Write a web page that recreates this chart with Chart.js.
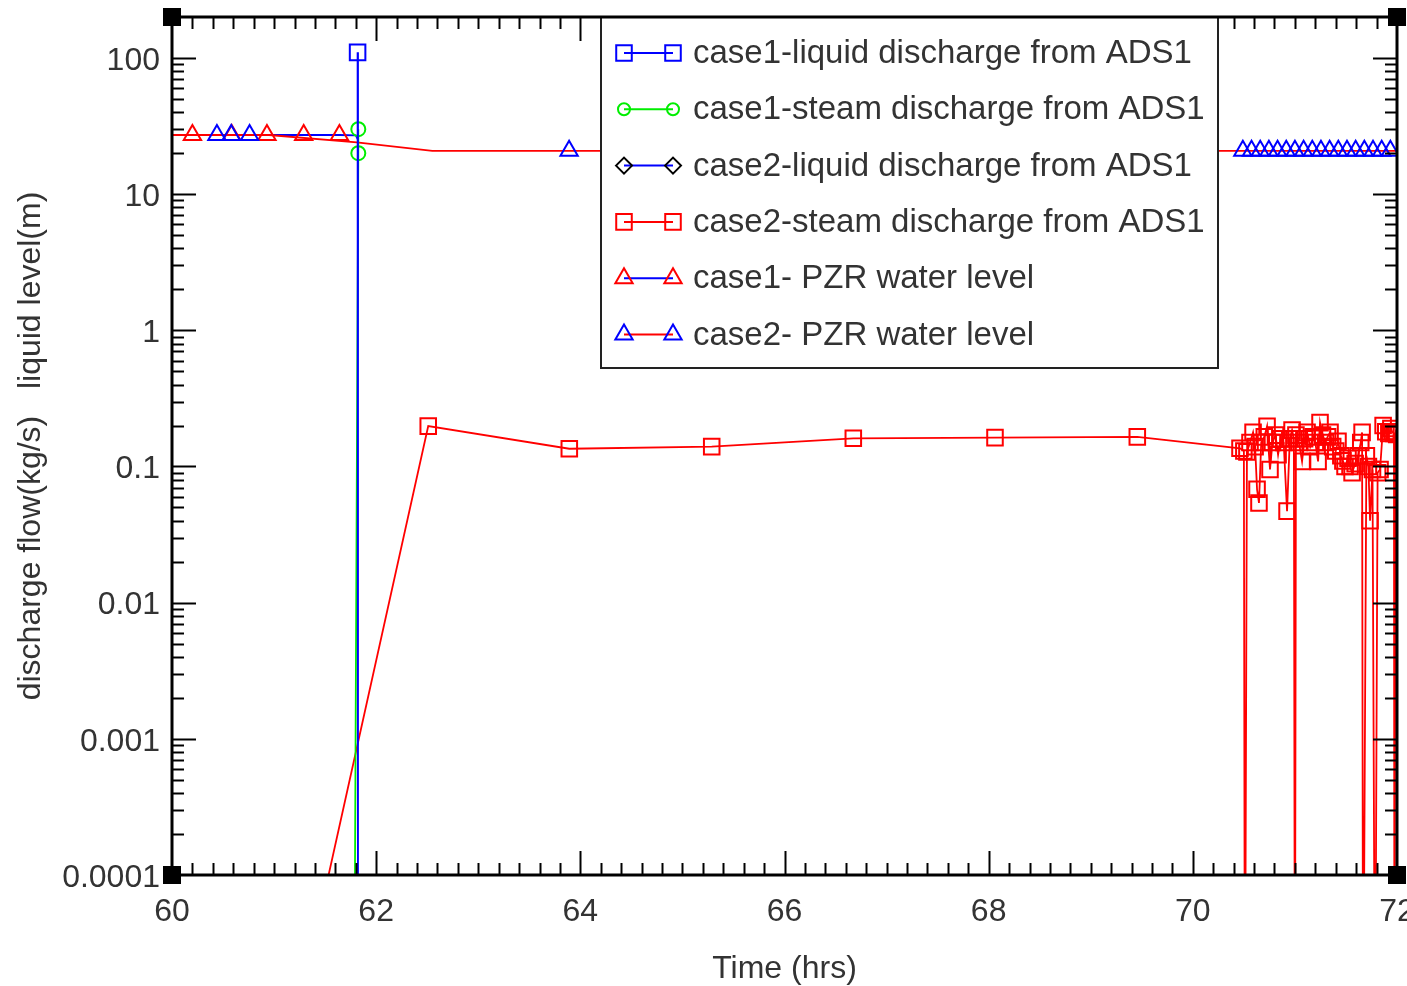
<!DOCTYPE html>
<html>
<head>
<meta charset="utf-8">
<script src="https://cdn.jsdelivr.net/npm/chart.js@4/dist/chart.umd.min.js"></script>
<style>
  html, body { margin: 0; padding: 0; background: #fff; }
  #wrap { width: 1407px; height: 986px; }
</style>
</head>
<body>
<div id="wrap"><canvas id="c" width="1407" height="986"></canvas></div>
<script>
// ---- axis ticks ----
const xTicks = [60, 62, 64, 66, 68, 70, 72];
const yTickValues = [0.0001, 0.001, 0.01, 0.1, 1, 10, 100];
const yTickLabels = ['0.0001', '0.001', '0.01', '0.1', '1', '10', '100'];

// ---- series labels ----
const seriesLabels = [
  'case1-liquid discharge from ADS1',
  'case1-steam discharge from ADS1',
  'case2-liquid discharge from ADS1',
  'case2-steam discharge from ADS1',
  'case1- PZR water level',
  'case2- PZR water level'
];

// ---- series values: [time (hrs), value] ----
const case1Liquid = [[61.818, 110], [61.822, 1e-6]];
const case1Steam = [[61.825, 30], [61.825, 20], [61.78, 1e-6]];
const case2Liquid = [];
const case2Steam = [
  [61.25, 1.1e-5], [62.51, 0.198], [63.892, 0.135], [65.287, 0.140], [66.674, 0.161],
  [68.062, 0.163], [69.456, 0.165], [70.462, 0.136], [70.50, 0.130], [70.51, 3e-6],
  [70.53, 0.128], [70.56, 0.150], [70.59, 0.178], [70.61, 0.140], [70.629, 0.068],
  [70.648, 0.054], [70.67, 0.150], [70.70, 0.165], [70.727, 0.197], [70.756, 0.095],
  [70.78, 0.150], [70.81, 0.170], [70.835, 0.122], [70.86, 0.160], [70.89, 0.150],
  [70.923, 0.047], [70.95, 0.160], [70.972, 0.185], [70.99, 0.160], [71.0, 3e-6],
  [71.01, 0.170], [71.04, 0.150], [71.07, 0.109], [71.095, 0.160], [71.119, 0.178],
  [71.15, 0.140], [71.18, 0.165], [71.20, 0.150], [71.227, 0.109], [71.246, 0.210],
  [71.27, 0.170], [71.30, 0.150], [71.32, 0.165], [71.344, 0.178], [71.37, 0.140],
  [71.40, 0.130], [71.422, 0.153], [71.45, 0.120], [71.47, 0.110], [71.491, 0.100],
  [71.52, 0.115], [71.54, 0.100], [71.56, 0.090], [71.59, 0.105], [71.62, 0.120],
  [71.645, 0.150], [71.658, 0.178], [71.668, 3e-6], [71.70, 0.120], [71.72, 0.100],
  [71.736, 0.040], [71.76, 0.095], [71.785, 3e-6], [71.81, 0.090], [71.834, 0.095],
  [71.864, 0.200], [71.89, 0.180], [71.92, 0.175], [71.94, 0.190], [71.952, 0.180],
  [71.97, 0.175], [71.975, 3e-6], [71.985, 0.180], [71.997, 0.172]
];
const case1Pzr = [
  [60.0, 27.2], [60.2, 27.2], [60.585, 27.2], [60.93, 27.2], [61.29, 27.2],
  [61.64, 27.2], [61.80, 27.0], [61.82, 25.3]
];
const case2Pzr = [
  [60.0, 27.2], [60.44, 27.2], [60.58, 27.2], [60.76, 27.2], [60.95, 27.2],
  [61.81, 24.0], [62.55, 20.8], [63.89, 20.8],
  [70.49, 20.8], [70.575, 20.8], [70.66, 20.8], [70.745, 20.8], [70.83, 20.8],
  [70.915, 20.8], [71.0, 20.8], [71.085, 20.8], [71.17, 20.8], [71.255, 20.8],
  [71.34, 20.8], [71.425, 20.8], [71.51, 20.8], [71.595, 20.8], [71.68, 20.8],
  [71.765, 20.8], [71.85, 20.8], [71.935, 20.8], [72.0, 20.8]
];

// samples that carry no marker (line bends only)
const case1PzrPlain = [0, 6, 7];
const case2PzrPlain = [0, 4, 5, 6, 26];

const FONT = '"Liberation Sans", Arial, sans-serif';
const TEXT = '#333333';
const toXY = arr => arr.map(([x, y]) => ({ x, y }));
const radiusFn = (r, plain) => ctx => (plain.includes(ctx.dataIndex) ? 0 : r);

const makeSet = (i, data, line, mark, style, r, order, plain) => ({
  label: seriesLabels[i],
  data: toXY(data),
  borderColor: line,
  borderWidth: 1.8,
  pointStyle: style,
  pointBorderColor: mark,
  pointBackgroundColor: 'rgba(0,0,0,0)',
  pointBorderWidth: 2,
  pointRadius: plain ? radiusFn(r, plain) : r,
  legendRadius: style === 'rect' ? 11 : (style === 'circle' ? 6 : (style === 'rectRot' ? 8 : 10)),
  order: order,
  fill: false,
  tension: 0
});

const datasets = [
  makeSet(0, case1Liquid, '#0000ff', '#0000ff', 'rect', 11, 1),
  makeSet(1, case1Steam, '#00ee00', '#00ee00', 'circle', 7, 2),
  makeSet(2, case2Liquid, '#0000ff', '#000000', 'rectRot', 8, 6),
  makeSet(3, case2Steam, '#ff0000', '#ff0000', 'rect', 11, 3),
  makeSet(4, case1Pzr, '#0000ff', '#ff0000', 'triangle', 10, 5, case1PzrPlain),
  makeSet(5, case2Pzr, '#ff0000', '#0000ff', 'triangle', 10, 4, case2PzrPlain)
];

// inward tick marks on all four sides
const tickPlugin = {
  id: 'inwardTicks',
  afterDatasetsDraw(chart) {
    const { ctx, chartArea: a, scales: { x, y } } = chart;
    ctx.save();
    ctx.strokeStyle = '#000';
    ctx.lineWidth = 2;
    const seg = (x0, y0, x1, y1) => { ctx.beginPath(); ctx.moveTo(x0, y0); ctx.lineTo(x1, y1); ctx.stroke(); };
    const minorStep = 0.2;
    const nx = Math.round((x.max - x.min) / minorStep);
    for (let k = 1; k < nx; k++) {
      const t = x.min + k * minorStep;
      const px = Math.round(x.getPixelForValue(t)) + 0.5;
      const len = (k % 10 === 0) ? 24 : 12;
      seg(px, a.bottom, px, a.bottom - len);
      seg(px, a.top, px, a.top + len);
    }
    for (let d = -4; d <= 2; d++) {
      for (let m = 1; m <= 9; m++) {
        const v = m * Math.pow(10, d);
        if (v <= y.min || v >= y.max) continue;
        const py = Math.round(y.getPixelForValue(v)) + 0.5;
        const len = (m === 1) ? 24 : 12;
        seg(a.left, py, a.left + len, py);
        seg(a.right, py, a.right - len, py);
      }
    }
    ctx.restore();
  }
};

// boxed legend: sample line in the series line colour, markers in marker colour
const legendPlugin = {
  id: 'boxLegend',
  afterDatasetsDraw(chart, args, o) {
    const ctx = chart.ctx;
    ctx.save();
    ctx.fillStyle = '#fff';
    ctx.fillRect(o.left, o.top, o.right - o.left, o.bottom - o.top);
    ctx.lineWidth = 2;
    ctx.strokeStyle = '#222';
    ctx.strokeRect(o.left, o.top, o.right - o.left, o.bottom - o.top);
    chart.data.datasets.forEach((ds, i) => {
      const yy = o.firstRow + i * o.rowGap;
      ctx.strokeStyle = ds.borderColor;
      ctx.lineWidth = 2;
      ctx.beginPath();
      ctx.moveTo(o.sampleLeft, yy);
      ctx.lineTo(o.sampleRight, yy);
      ctx.stroke();
      const pt = { pointStyle: ds.pointStyle, radius: ds.legendRadius, rotation: 0, borderWidth: 2 };
      [o.sampleLeft, o.sampleRight].forEach(px => {
        ctx.fillStyle = 'rgba(0,0,0,0)';
        ctx.strokeStyle = ds.pointBorderColor;
        ctx.lineWidth = 2;
        Chart.helpers.drawPoint(ctx, pt, px, yy);
      });
      ctx.fillStyle = TEXT;
      ctx.font = o.fontSize + 'px ' + FONT;
      ctx.textAlign = 'left';
      ctx.textBaseline = 'middle';
      ctx.fillText(ds.label, o.textX, yy + 1);
    });
    ctx.restore();
  }
};

// heavy plot frame with square corner blocks
const framePlugin = {
  id: 'plotFrame',
  afterDatasetsDraw(chart) {
    const { ctx, chartArea: a } = chart;
    ctx.save();
    ctx.strokeStyle = '#000';
    ctx.lineWidth = 3;
    ctx.strokeRect(a.left, a.top, a.right - a.left, a.bottom - a.top);
    ctx.fillStyle = '#000';
    const s = 18;
    [[a.left, a.top], [a.right, a.top], [a.left, a.bottom], [a.right, a.bottom]].forEach(([cx, cy]) => {
      ctx.fillRect(cx - s / 2, cy - s / 2, s, s);
    });
    ctx.restore();
  }
};

new Chart(document.getElementById('c'), {
  type: 'line',
  data: { datasets },
  options: {
    responsive: false,
    animation: false,
    devicePixelRatio: 1,
    events: [],
    layout: { autoPadding: false, padding: { top: 17, right: 10, bottom: 0, left: 0 } },
    plugins: {
      legend: { display: false },
      tooltip: { enabled: false },
      boxLegend: {
        left: 601, top: 17, right: 1218, bottom: 368,
        firstRow: 53, rowGap: 56.3,
        sampleLeft: 624, sampleRight: 673, textX: 693, fontSize: 33
      }
    },
    scales: {
      x: {
        type: 'linear',
        position: 'bottom',
        min: 60,
        max: 72,
        afterBuildTicks: s => { s.ticks = xTicks.map(v => ({ value: v })); },
        ticks: {
          autoSkip: false, maxRotation: 0, padding: 18, color: TEXT,
          font: { family: FONT, size: 32 },
          callback: v => String(v)
        },
        grid: { display: false, drawTicks: false },
        border: { display: false },
        title: {
          display: true, text: 'Time (hrs)', color: TEXT,
          font: { family: FONT, size: 32 }, padding: { top: 0, bottom: -2 }
        },
        afterFit: s => { s.height = 111; s.paddingLeft = 0; s.paddingRight = 0; }
      },
      y: {
        type: 'logarithmic',
        position: 'left',
        min: 0.0001,
        max: 200,
        afterBuildTicks: s => { s.ticks = yTickValues.map(v => ({ value: v })); },
        ticks: {
          autoSkip: false, padding: 12, labelOffset: 3, color: TEXT,
          font: { family: FONT, size: 32 },
          callback: (v, i) => yTickLabels[i]
        },
        grid: { display: false, drawTicks: false },
        border: { display: false },
        title: {
          display: true, text: 'discharge flow(kg/s)   liquid level(m)', color: TEXT,
          font: { family: FONT, size: 32 }, padding: { top: 12, bottom: 0 }
        },
        afterFit: s => { s.width = 172; s.paddingTop = 0; s.paddingBottom = 0; }
      }
    }
  },
  plugins: [tickPlugin, legendPlugin, framePlugin]
});
</script>
</body>
</html>
